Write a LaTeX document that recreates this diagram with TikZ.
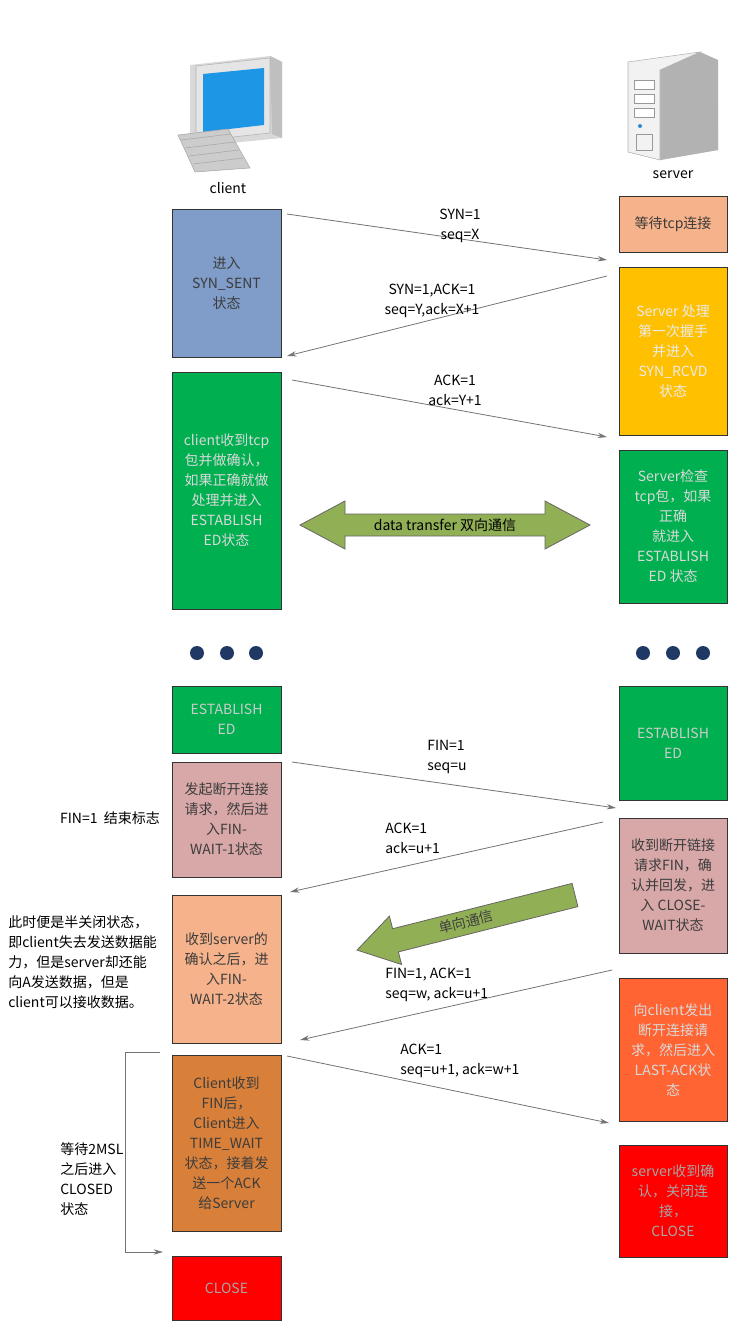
\documentclass[tikz,border=0pt]{standalone}
\usepackage{fontspec}
\setmainfont{Liberation Sans}
\newfontfamily\cjk{Noto Sans CJK SC}
\usetikzlibrary{arrows.meta}
\definecolor{cblue}{RGB}{127,157,200}
\definecolor{cgreen}{RGB}{0,176,80}
\definecolor{cpink}{RGB}{216,168,168}
\definecolor{cpeach}{RGB}{246,178,138}
\definecolor{corange}{RGB}{216,128,58}
\definecolor{cred}{RGB}{255,0,0}
\definecolor{cyellow}{RGB}{255,192,0}
\definecolor{cored}{RGB}{255,100,50}
\definecolor{cagreen}{RGB}{145,175,85}
\definecolor{cdot}{RGB}{31,56,100}
\definecolor{txt}{RGB}{60,60,60}
\definecolor{scrblue}{RGB}{30,150,230}
\definecolor{ledblue}{RGB}{40,140,220}
\newcommand{\uu}{0.75pt}
\begin{document}
\begin{tikzpicture}[x=0.75pt,y=-0.75pt,
  every node/.style={font=\cjk\fontsize{10.5}{15}\selectfont},
  bx/.style={draw=black!80,line width=0.6pt,align=center,text=txt,inner sep=1pt},
  lb/.style={align=left,text=black,inner sep=0pt},
  msg/.style={draw=black!55,line width=0.6pt,-{Stealth[length=7pt,width=4pt]}}]
\useasboundingbox (0,0) rectangle (752,1344);
% client icon
\fill[black!15] (190,65) -- (270,56) -- (282,62) -- (282,138) -- (200,146) -- (190,140) -- cycle;
\fill[black!25] (270,56) -- (282,62) -- (282,138) -- (272,134) -- cycle;
\fill[white!90!black,draw=black!30] (196,66) -- (270,58) -- (270,133) -- (196,141) -- cycle;
\fill[scrblue] (203,74) -- (264,68) -- (264,125) -- (203,132) -- cycle;
\fill[black!20,draw=black!35] (178,135) -- (228,129) -- (250,168) -- (195,172) -- cycle;
\foreach \i in {0,...,3}{\draw[black!35] (181+4*\i,140+8*\i) -- (231+4*\i,134+8*\i);}
\node (cl) at (228,188) [lb] {client};
% server icon
\shade[top color=black!8,bottom color=black!25] (628,62) -- (700,52) -- (718,60) -- (718,150) -- (660,160) -- (628,152) -- cycle;
\fill[black!30] (700,52) -- (718,60) -- (718,150) -- (660,160) -- (660,70) -- cycle;
\fill[white!95!black,draw=black!30] (628,62) -- (700,52) -- (660,70) -- (660,160) -- (628,152) -- cycle;
\foreach \y in {80,94,108}{\draw[black!40,fill=white] (634,\y) rectangle (654,\y+9);}
\fill[ledblue] (640,126) circle (2);
\draw[black!40] (636,134) rectangle (652,150);
\node (sv) at (673,175) [lb] {server};
% client boxes
\node (a1) at (226.5,283) [bx,fill=cblue,minimum width=109*\uu,minimum height=148*\uu] {进入\\SYN\_SENT\\状态};
\node (a2) at (226.5,490.5) [bx,fill=cgreen,text=white!85!black,minimum width=109*\uu,minimum height=237*\uu] {client收到tcp\\包并做确认，\\如果正确就做\\处理并进入\\ESTABLISH\\ED状态};
\node (a3) at (226.5,719.5) [bx,fill=cgreen,text=white!80!black,minimum width=109*\uu,minimum height=67*\uu] {ESTABLISH\\ED};
\node (a4) at (226.5,819.5) [bx,fill=cpink,minimum width=109*\uu,minimum height=115*\uu] {发起断开连接\\请求，然后进\\入FIN-\\WAIT-1状态};
\node (a5) at (226.5,969) [bx,fill=cpeach,minimum width=109*\uu,minimum height=148*\uu] {收到server的\\确认之后，进\\入FIN-\\WAIT-2状态};
\node (a6) at (226.5,1143) [bx,fill=corange,minimum width=109*\uu,minimum height=176*\uu] {Client收到\\FIN后，\\Client进入\\TIME\_WAIT\\状态，接着发\\送一个ACK\\给Server};
\node (a7) at (226.5,1288) [bx,fill=cred,text=black!35,minimum width=109*\uu,minimum height=64*\uu] {CLOSE};
% server boxes
\node (b1) at (673,224) [bx,fill=cpeach,minimum width=108*\uu,minimum height=56*\uu] {等待tcp连接};
\node (b2) at (673,351) [bx,fill=cyellow,text=white!92!black,minimum width=108*\uu,minimum height=168*\uu] {Server 处理\\第一次握手\\并进入\\SYN\_RCVD\\状态};
\node (b3) at (673,526.5) [bx,fill=cgreen,text=white!85!black,minimum width=108*\uu,minimum height=153*\uu] {Server检查\\tcp包，如果\\正确\\就进入\\ESTABLISH\\ED 状态};
\node (b4) at (673,743) [bx,fill=cgreen,text=white!80!black,minimum width=108*\uu,minimum height=114*\uu] {ESTABLISH\\ED};
\node (b5) at (673,885.5) [bx,fill=cpink,minimum width=108*\uu,minimum height=135*\uu] {收到断开链接\\请求FIN，确\\认并回发，进\\入 CLOSE-\\WAIT状态};
\node (b6) at (673,1049.5) [bx,fill=cored,text=white!85!black,minimum width=108*\uu,minimum height=143*\uu] {向client发出\\断开连接请\\求，然后进入\\LAST-ACK状\\态};
\node (b7) at (673,1201) [bx,fill=cred,text=black!35,minimum width=108*\uu,minimum height=112*\uu] {server收到确\\认，关闭连\\接，\\CLOSE};
% messages
\coordinate (m1s) at (287,214); \coordinate (m1e) at (607,260);
\draw[msg] (m1s) -- (m1e);
\node (t1) at (460,226) [lb,align=center] {SYN=1\\seq=X};
\coordinate (m2s) at (607,276); \coordinate (m2e) at (287,356);
\draw[msg] (m2s) -- (m2e);
\node (t2) at (432,301) [lb,align=center] {SYN=1,ACK=1\\seq=Y,ack=X+1};
\coordinate (m3s) at (292,380); \coordinate (m3e) at (607,437);
\draw[msg] (m3s) -- (m3e);
\node (t3) at (455,390) [lb,align=center] {ACK=1\\ack=Y+1};
\coordinate (m4s) at (292,762); \coordinate (m4e) at (616,808);
\draw[msg] (m4s) -- (m4e);
\node (t4) at (427,757) [lb,anchor=west] {FIN=1\\seq=u};
\coordinate (m5s) at (603,822); \coordinate (m5e) at (290,892);
\draw[msg] (m5s) -- (m5e);
\node (t5) at (385,838) [lb,anchor=west] {ACK=1\\ack=u+1};
\coordinate (m6s) at (612,970); \coordinate (m6e) at (300,1040);
\draw[msg] (m6s) -- (m6e);
\node (t6) at (385,985) [lb,anchor=west] {FIN=1, ACK=1\\seq=w, ack=u+1};
\coordinate (m7s) at (287,1056); \coordinate (m7e) at (609,1123);
\draw[msg] (m7s) -- (m7e);
\node (t7) at (400,1061) [lb,anchor=west] {ACK=1\\seq=u+1, ack=w+1};
% data transfer arrow
\draw[fill=cagreen,draw=black!60,line width=0.6pt] (300,525) -- (345,501) -- (345,514) -- (545,514) -- (545,501) -- (590,525) -- (545,549) -- (545,536) -- (345,536) -- (345,549) -- cycle;
\node (dt) at (445,525) [lb] {data transfer 双向通信};
% one-way arrow
\draw[fill=cagreen,draw=black!60,line width=0.6pt] (572.1,883.4) -- (392.6,928.7) -- (389.4,916.1) -- (357,950.1) -- (401.6,964.5) -- (398.4,951.9) -- (577.9,906.6) -- cycle;
\node (ow) at (466,922) [lb,rotate=14,text=black!75] {单向通信};
% dots
\foreach \x [count=\i] in {197,227,256,643,673,703}{\fill[cdot] (\x,653) circle (7);}
% left notes
\node (n1) at (110,818) [lb] {FIN=1\ \ 结束标志};
\node (n2) at (8,962) [lb,anchor=west] {此时便是半关闭状态，\\即client失去发送数据能\\力，但是server却还能\\向A发送数据，但是\\client可以接收数据。};
\node (n3) at (60,1179) [lb,anchor=west] {等待2MSL\\之后进入\\CLOSED\\状态};
\coordinate (k1) at (160,1052); \coordinate (k2) at (163,1252);
\draw[black!55,line width=0.6pt,-{Stealth[length=7pt,width=4pt]}] (k1) -- (125,1052) -- (125,1252) -- (k2);
\end{tikzpicture}
\end{document}
